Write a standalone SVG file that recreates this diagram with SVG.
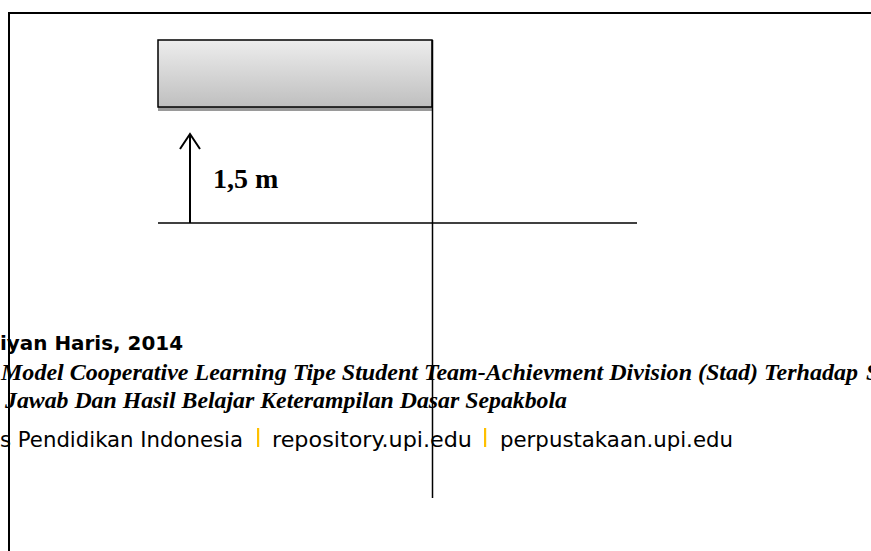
<svg xmlns="http://www.w3.org/2000/svg" width="871" height="551" viewBox="0 0 871 551">
<style>
.ln{stroke:#000;stroke-width:2;fill:none}
.thin{stroke:#000;stroke-width:1.5;fill:none}
.ft{font-family:"DejaVu Sans","Liberation Sans",sans-serif;fill:#000}
.it{font-family:"Liberation Serif","Times New Roman",serif;font-weight:bold;font-style:italic;font-size:23px;fill:#000}
.pipe{fill:#FFC000}
</style>
<defs>
<linearGradient id="g" x1="0" y1="0" x2="0" y2="1">
<stop offset="0" stop-color="#ededed"/>
<stop offset="1" stop-color="#bfbfbf"/>
</linearGradient>
</defs>
<rect width="871" height="551" fill="#fff"/>
<g id="footer">
<text class="ft" x="0" y="350" font-size="20" font-weight="bold" textLength="183" lengthAdjust="spacingAndGlyphs">iyan Haris, 2014</text>
<text class="it" x="1" y="380" textLength="857" lengthAdjust="spacingAndGlyphs">Model Cooperative Learning Tipe Student Team-Achievment Division (Stad) Terhadap</text>
<text class="it" x="866" y="380">S</text>
<text class="it" x="5" y="408" textLength="562" lengthAdjust="spacingAndGlyphs">Jawab Dan Hasil Belajar Keterampilan Dasar Sepakbola</text>
<text class="ft" x="0" y="447" font-size="21" textLength="243" lengthAdjust="spacingAndGlyphs">s Pendidikan Indonesia</text>
<rect class="pipe" x="257" y="428" width="2.2" height="19"/>
<text class="ft" x="272" y="447" font-size="21" textLength="200" lengthAdjust="spacingAndGlyphs">repository.upi.edu</text>
<rect class="pipe" x="484" y="428" width="2.2" height="19"/>
<text class="ft" x="500" y="447" font-size="21" textLength="233" lengthAdjust="spacingAndGlyphs">perpustakaan.upi.edu</text>
</g>
<g id="frame">
<line class="ln" x1="9" y1="13" x2="871" y2="13"/>
<line class="ln" x1="9" y1="12" x2="9" y2="551"/>
</g>
<g id="bar">
<rect x="158" y="40" width="275" height="71" fill="#9a9a9a"/>
<rect x="158" y="40" width="274" height="67" fill="url(#g)" stroke="#000" stroke-width="1.5"/>
</g>
<g id="connectors">
<line class="thin" x1="432.5" y1="40" x2="432.5" y2="498"/>
<line class="thin" x1="158" y1="223" x2="637" y2="223"/>
<line class="ln" x1="190" y1="223" x2="190" y2="134"/>
<polyline class="ln" points="180,149 190,134 200,149"/>
</g>
<g id="label">
<text x="213" y="188" font-family="Liberation Serif,'Times New Roman',serif" font-weight="bold" font-size="28" fill="#000">1,5 m</text>
</g>
</svg>
